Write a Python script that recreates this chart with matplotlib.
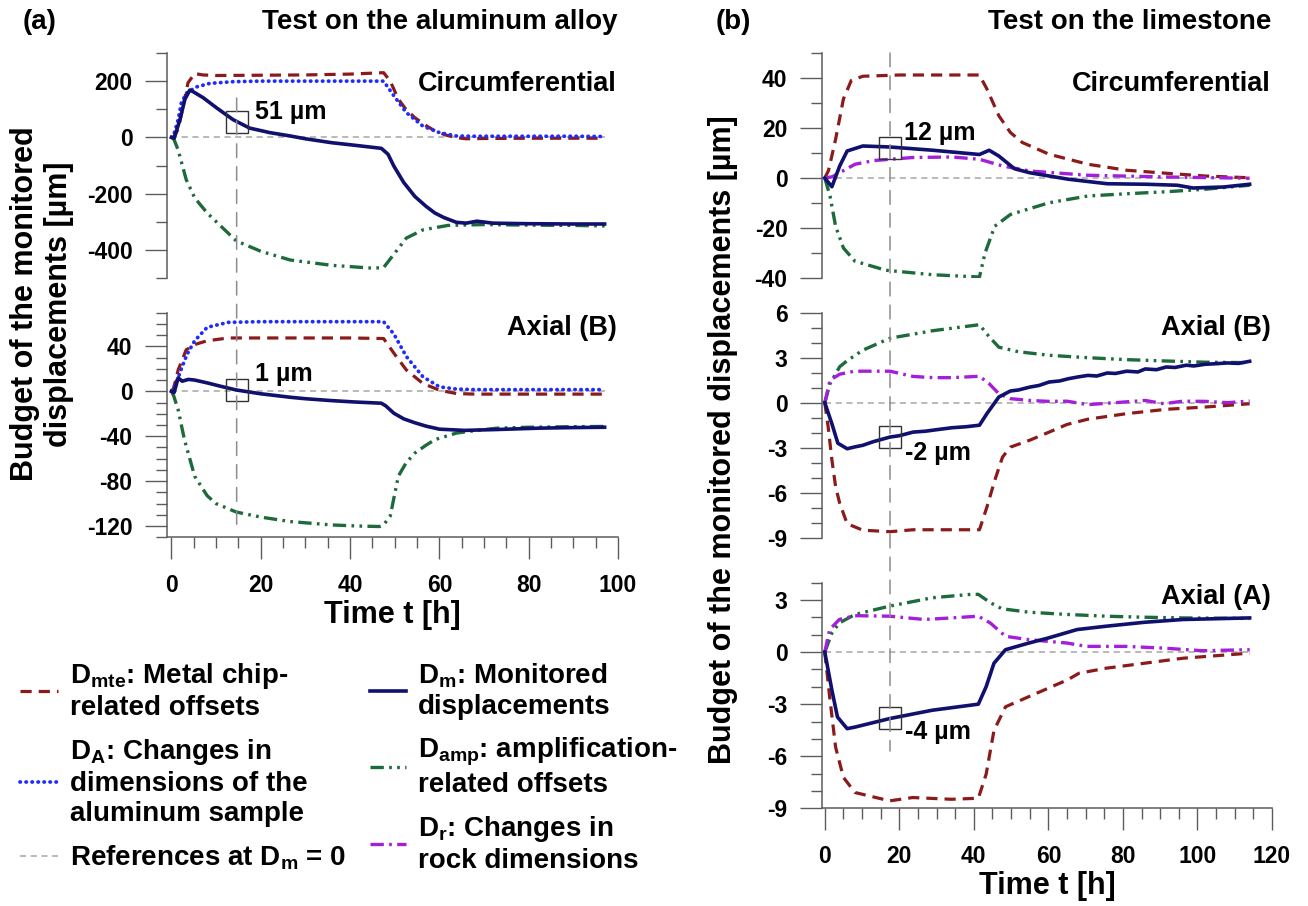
import matplotlib
matplotlib.use("Agg")
import matplotlib.pyplot as plt
from matplotlib.lines import Line2D
from matplotlib.patches import ConnectionPatch
from matplotlib.ticker import MultipleLocator

plt.rcParams["font.family"] = ["Liberation Sans", "DejaVu Sans"]
plt.rcParams["font.weight"] = "bold"
plt.rcParams["axes.labelweight"] = "bold"
plt.rcParams["mathtext.default"] = "regular"
plt.rcParams["axes.unicode_minus"] = False

# ---------------- data: (a) aluminum alloy, circumferential ----------------
t_ac_mte = [0, 0.5, 1.5, 2.2, 3.7, 5.2, 7, 10, 20, 30, 40, 47.5, 49, 50.8, 52.5,
            54.5, 57, 59, 61.5, 63.8, 66, 70, 80, 90, 97]
ac_mte = [0, 0, 30, 81, 194, 227, 222, 220, 221, 222, 225, 230, 200, 136, 100,
          70, 42, 23, 8, -1, -5, -4, -3, -3, -3]
t_ac_A = [0, 0.4, 1.5, 2.2, 3.4, 5.5, 8.6, 13.8, 20, 30, 40, 47.5, 49.8, 52.6,
          56.3, 60, 63.8, 68, 80, 90, 97]
ac_A = [0, 3, 63, 123, 158, 179, 192, 198, 200, 200, 200, 200, 148, 88,
        40, 17, 5, 4, 4, 4, 3]
t_ac_m = [0, 0.6, 1.9, 3.0, 4.1, 4.9, 7.1, 10.1, 13.8, 17.5, 22, 26.6, 30, 35.9,
          41, 47, 48.5, 49.8, 52, 54.5, 57, 59, 61, 63.8, 66, 68.4, 72, 80, 90, 97]
ac_m = [0, -3, 63, 135, 168, 162, 141, 105, 63, 33, 17, 5, -5, -19,
        -28, -39, -60, -102, -160, -210, -245, -269, -285, -302, -305, -298,
        -305, -307, -308, -308]
t_ac_amp = [0, 0.5, 1.5, 3.3, 5.2, 8, 14.5, 20, 26.6, 35.9, 45, 47.5, 49.4,
            52.6, 56.3, 61.9, 70, 80, 90, 97]
ac_amp = [0, -5, -45, -150, -215, -269, -368, -405, -436, -455, -465, -463,
          -424, -358, -329, -313, -310, -312, -313, -315]

# ---------------- data: (a) aluminum alloy, axial (B) ----------------
t_ab_A = [0, 0.5, 1.5, 2.4, 3.5, 5.2, 8, 12.7, 20, 30, 40, 47.5, 49.8, 52.6,
          56.3, 60, 63.8, 68, 80, 90, 97]
ab_A = [0, 3, 12, 22, 33, 45, 57, 61.4, 62, 62, 62, 62, 51, 31,
        13, 4, 2, 1.5, 1.5, 1.5, 1.5]
t_ab_mte = [0, 0.5, 1.5, 3.3, 5.5, 8, 12.7, 20, 30, 40, 47.5, 49.8, 52.6, 56.3,
            60, 63.8, 68, 80, 90, 97]
ab_mte = [0, 3, 19, 37, 42, 45, 47.5, 47.5, 47.5, 47.5, 47, 34, 19, 7,
          1, -2, -2.5, -2.5, -2.5, -2.5]
t_ab_m = [0, 0.6, 1.5, 2.4, 3.8, 5.2, 8, 11, 14.5, 20, 26.6, 30, 35.9, 41, 47,
          48, 49.8, 52, 54.5, 57, 60, 65.6, 73, 82.4, 90, 97]
ab_m = [0, -1, 12, 9, 10.6, 10, 7.5, 4.5, 1.2, -2.2, -5.3, -6.6, -8.3, -9.5,
        -10.6, -13, -19.5, -24.5, -28, -31, -33.7, -34.8, -34, -32.8, -32.3, -32]
t_ab_amp = [0, 0.5, 1.5, 2.9, 5.2, 8, 10, 14.5, 20, 26.6, 35.9, 42, 46.6, 47.5,
            49, 50.8, 52.5, 54.5, 57, 59, 63.8, 68, 73, 80, 90, 97]
ab_amp = [0, -4, -16.5, -43, -75.6, -93, -100, -107.5, -112, -116, -119, -120,
          -120.4, -119, -111, -75.6, -64, -55, -48, -43, -37.2, -35, -32.8, -32,
          -31.5, -31.3]

# ---------------- data: (b) limestone, circumferential ----------------
t_bc_mte = [0, 1.0, 2.9, 5, 7.1, 10.2, 20, 30, 41.5, 43.5, 46.7, 49.8, 53,
            60.2, 70.6, 81, 91.6, 102, 114]
bc_mte = [0, 3, 15.5, 31.6, 39, 40.7, 41.2, 41.2, 41.2, 35.6, 24.9, 18.2, 14.2,
          9.5, 5.5, 3.1, 1.9, 0.8, 0.1]
t_bc_m = [0, 1.9, 4, 6, 10.2, 17.5, 29, 41.5, 44.1, 46.7, 50.9, 55, 65.4, 75.8,
          86.2, 94.6, 98.8, 107, 114]
bc_m = [0, -3.5, 4.8, 10.8, 12.8, 12.4, 11.1, 9.4, 11.1, 8.8, 3.7, 2.1, -0.5,
        -2.3, -2.5, -2.9, -4, -3.6, -2.5]
t_bc_r = [0, 2, 4, 8.1, 13.3, 23.7, 34.1, 41.5, 47.7, 55, 70.6, 91.6, 114]
bc_r = [0, 0.5, 2.1, 5.5, 7, 8.2, 8.4, 7.5, 4.8, 2.8, 1.1, 0.4, -0.1]
t_bc_amp = [0, 1.4, 2.9, 5, 8.1, 16.4, 29, 41.5, 43, 45.6, 49.8, 60.2, 70.6,
            81, 91.6, 102, 114]
bc_amp = [0, -7.2, -19.3, -28, -33.3, -36.9, -38.7, -39.6, -30, -19.3, -14.6,
          -9.9, -7.2, -6.3, -5.5, -4.5, -2.9]

# ---------------- data: (b) limestone, axial (B) ----------------
t_bb_amp = [0, 1.4, 4, 6, 10.2, 17.5, 29, 41.5, 44.1, 46.7, 51.9, 60.2, 70.6,
            81, 91.6, 102, 114]
bb_amp = [0, 1.27, 2.4, 2.8, 3.5, 4.3, 4.8, 5.2, 4.4, 3.7, 3.4, 3.16, 3.0,
          2.87, 2.78, 2.7, 2.67]
t_bb_r = [0, 1.4, 4, 8, 17.5, 23.7, 29, 34, 41.5, 44.1, 46.7, 49.8, 55, 60, 65,
          70.6, 75, 80, 86, 91, 96, 102, 108, 114]
bb_r = [0, 1.5, 1.9, 2.1, 2.1, 1.75, 1.67, 1.67, 1.76, 1.27, 0.6, 0.27, 0.15,
        0.09, 0.1, -0.13, -0.05, 0.04, 0.15, -0.07, 0.1, 0.09, 0.0, 0.11]
t_bb_m = [0, 1.9, 3.5, 6, 8, 10.2, 13, 17.5, 20, 23.7, 27, 30, 34.1, 38, 41.5,
          43.5, 46.7, 49.8, 52, 55, 57.5, 60.2, 63, 65.4, 68, 70.6, 73, 75.8, 78,
          81, 84, 86, 89, 91.6, 94, 97, 99, 102, 105, 108, 111, 114]
bb_m = [0, -1.4, -2.7, -3.07, -2.95, -2.84, -2.6, -2.29, -2.2, -1.96, -1.9,
        -1.8, -1.67, -1.6, -1.5, -0.73, 0.38, 0.78, 0.85, 1.04, 1.15, 1.38, 1.45,
        1.6, 1.72, 1.82, 1.78, 1.98, 1.95, 2.1, 2.05, 2.25, 2.2, 2.38, 2.35, 2.5,
        2.45, 2.56, 2.6, 2.65, 2.62, 2.76]
t_bb_mte = [0, 0.9, 1.9, 2.9, 4, 6, 10.2, 17.5, 23.7, 30, 41.5, 43.5, 45.6,
            47.7, 49.8, 55, 60.2, 65, 70.6, 81, 91.6, 102, 114]
bb_mte = [0, -1.6, -3.8, -5.6, -6.7, -8.07, -8.5, -8.6, -8.47, -8.47, -8.47,
          -6.96, -5.18, -3.62, -2.96, -2.5, -1.96, -1.45, -1.1, -0.73, -0.44,
          -0.29, -0.07]

# ---------------- data: (b) limestone, axial (A) ----------------
t_ba_amp = [0, 1.9, 3.9, 8.1, 17.4, 28.8, 39.2, 41.2, 44.4, 47.5, 54.7, 65.1,
            75.4, 85.8, 96.2, 114]
ba_amp = [0, 1.1, 1.68, 2.17, 2.65, 3.13, 3.33, 3.33, 2.85, 2.5, 2.3, 2.17,
          2.07, 2.01, 1.97, 1.94]
t_ba_r = [0, 1.3, 3.9, 8.1, 17.4, 26.7, 34, 41.2, 44.4, 48.5, 54.7, 65.1, 70.2,
          80.6, 91, 101.3, 114]
ba_r = [0, 1.3, 1.88, 2.1, 2.07, 1.88, 1.97, 2.07, 1.68, 0.91, 0.72, 0.52,
        0.33, 0.33, 0.23, 0.08, 0.14]
t_ba_m = [0, 1.9, 3.4, 6, 8.1, 17.4, 28.8, 41.2, 43.3, 45.4, 48.5, 54.7, 59.9,
          67.7, 75.4, 85.8, 96.2, 114]
ba_m = [0, -2.19, -3.74, -4.41, -4.32, -3.83, -3.35, -3.0, -1.99, -0.64, 0.14,
        0.52, 0.81, 1.3, 1.49, 1.72, 1.88, 1.97]
t_ba_mte = [0, 1.3, 2.9, 5, 8.1, 17.4, 23.6, 34, 41.2, 43.3, 45.4, 48.5, 54.7,
            65.1, 68.2, 75.4, 85.8, 96.2, 114]
ba_mte = [0, -2.57, -5.48, -7.22, -8.09, -8.57, -8.38, -8.48, -8.42, -7.03,
          -4.51, -3.15, -2.57, -1.6, -1.22, -0.93, -0.64, -0.35, -0.06]

# squares marking the values read at a given time
mark_t_a = 14.6
mark_t_b = 17.5
mark_y = [53, 1, 12, -2.3, -3.8]
mark_text = ["51 µm", "1 µm", "12 µm", "-2 µm", "-4 µm"]
# extent of the vertical reference lines (top value, bottom value)
vline_a = (140, -120)
vline_b = (50, -5.7)

panel_names = ["Circumferential", "Axial (B)", "Circumferential", "Axial (B)",
               "Axial (A)"]

# ---------------- styles ----------------
GRAY = "#5c5c5c"
S_MTE = dict(color="#8b1a1a", lw=2.3, ls=(0, (3.5, 2.2)))
S_A = dict(color="#1f2bff", lw=2.7, ls=(0, (0.1, 1.5)), dash_capstyle="round")
S_M = dict(color="#10106e", lw=2.6, ls="-")
S_AMP = dict(color="#1d6b3c", lw=2.4, ls=(0, (4, 1.6, 0.8, 1.6, 0.8, 1.6)))
S_R = dict(color="#a31fd9", lw=2.4, ls=(0, (4, 1.6, 0.8, 1.6)))
S_ZERO = dict(color="#a6a6a6", lw=1.1, ls=(0, (4, 3)))
S_VL = dict(color="#8c8c8c", lw=1.1, ls=(0, (9, 6)))

W, H = 1308, 906
fig = plt.figure(figsize=(W / 100, H / 100), dpi=100)


def box(x0, y0, x1, y1):
    return [x0 / W, 1 - y1 / H, (x1 - x0) / W, (y1 - y0) / H]


def style_axes(ax, xlim, ylim, major, minor, show_x):
    ax.set_xlim(xlim)
    ax.set_ylim(ylim)
    ax.patch.set_alpha(0)
    for s in ["top", "right"]:
        ax.spines[s].set_visible(False)
    ax.spines["left"].set_color(GRAY)
    ax.spines["left"].set_linewidth(1.1)
    ax.yaxis.set_major_locator(MultipleLocator(major))
    ax.yaxis.set_minor_locator(MultipleLocator(minor))
    ax.tick_params(axis="y", which="major", length=15.8, width=1.0, color=GRAY,
                   pad=9, labelsize=16.5)
    ax.tick_params(axis="y", which="minor", length=7.7, width=1.0, color=GRAY)
    if show_x:
        ax.spines["bottom"].set_color(GRAY)
        ax.spines["bottom"].set_linewidth(1.1)
        ax.xaxis.set_major_locator(MultipleLocator(20))
        ax.xaxis.set_minor_locator(MultipleLocator(5))
        ax.tick_params(axis="x", which="major", length=15.6, width=1.0,
                       color=GRAY, pad=11, labelsize=16.5)
        ax.tick_params(axis="x", which="minor", length=7.9, width=1.0, color=GRAY)
        ax.set_xlabel("Time t [h]", fontsize=22, fontweight="bold", labelpad=2)
    else:
        ax.spines["bottom"].set_visible(False)
        ax.tick_params(axis="x", which="both", bottom=False, labelbottom=False)


ax_ac = fig.add_axes(box(167, 53, 618, 278))
ax_ab = fig.add_axes(box(167, 312.7, 618, 537.3))
ax_bc = fig.add_axes(box(822, 53, 1272, 278))
ax_bb = fig.add_axes(box(822, 312.7, 1272, 537.7))
ax_ba = fig.add_axes(box(822, 582.7, 1272, 808.3))

style_axes(ax_ac, (-1, 100), (-500, 300), 200, 100, False)
style_axes(ax_ab, (-1, 100), (-130, 70), 40, 10, True)
style_axes(ax_bc, (-0.75, 120), (-40, 50), 20, 10, False)
style_axes(ax_bb, (-0.75, 120), (-9, 6), 3, 1, False)
style_axes(ax_ba, (-0.75, 120), (-9, 4), 3, 1, True)

panels = [
    (ax_ac, [(t_ac_amp, ac_amp, S_AMP), (t_ac_mte, ac_mte, S_MTE),
             (t_ac_A, ac_A, S_A), (t_ac_m, ac_m, S_M)]),
    (ax_ab, [(t_ab_amp, ab_amp, S_AMP), (t_ab_mte, ab_mte, S_MTE),
             (t_ab_A, ab_A, S_A), (t_ab_m, ab_m, S_M)]),
    (ax_bc, [(t_bc_amp, bc_amp, S_AMP), (t_bc_mte, bc_mte, S_MTE),
             (t_bc_r, bc_r, S_R), (t_bc_m, bc_m, S_M)]),
    (ax_bb, [(t_bb_amp, bb_amp, S_AMP), (t_bb_mte, bb_mte, S_MTE),
             (t_bb_r, bb_r, S_R), (t_bb_m, bb_m, S_M)]),
    (ax_ba, [(t_ba_amp, ba_amp, S_AMP), (t_ba_mte, ba_mte, S_MTE),
             (t_ba_r, ba_r, S_R), (t_ba_m, ba_m, S_M)]),
]
for ax, series in panels:
    t_end = max(s[0][-1] for s in series)
    ax.hlines(0, 0, t_end, zorder=1, color=S_ZERO["color"],
              linewidth=S_ZERO["lw"], linestyle=S_ZERO["ls"])
    for t, y, st in series:
        ax.plot(t, y, zorder=3, **st)

# squares with read values
offsets = [(13, 7.5), (13.3, 12), (9.8, 11), (10.6, -11.3), (10.6, -10)]
mark_axes = [p[0] for p in panels]
mark_ts = [mark_t_a, mark_t_a, mark_t_b, mark_t_b, mark_t_b]
for ax, tx, ty, txt, off in zip(mark_axes, mark_ts, mark_y, mark_text, offsets):
    ax.plot([tx], [ty], marker="s", ms=15.5, mfc="none", mec="#333333",
            mew=1.0, zorder=5)
    ax.annotate(txt, (tx, ty), xytext=off, textcoords="offset points",
                fontsize=18, ha="left", va="center")

# panel names
for ax, name, yf in zip(mark_axes, panel_names,
                        [0.862, 0.932, 0.862, 0.932, 0.937]):
    ax.text(0.998, yf, name, transform=ax.transAxes, ha="right", va="center",
            fontsize=19.5)

# vertical dashed reference lines spanning the stacked panels
for axA, axB, tx, (ytop, ybot) in [(ax_ac, ax_ab, mark_t_a, vline_a),
                                   (ax_bc, ax_ba, mark_t_b, vline_b)]:
    con = ConnectionPatch(xyA=(tx, ytop), coordsA=axA.transData,
                          xyB=(tx, ybot), coordsB=axB.transData,
                          color=S_VL["color"], lw=S_VL["lw"], linestyle=S_VL["ls"])
    con.set_zorder(0.5)
    fig.add_artist(con)

# titles and y labels
fig.text(22.8 / W, 1 - 22 / H, "(a)", fontsize=20, ha="left", va="center")
fig.text(617 / W, 1 - 22 / H, "Test on the aluminum alloy", fontsize=20,
         ha="right", va="center")
fig.text(715.5 / W, 1 - 22 / H, "(b)", fontsize=20, ha="left", va="center")
fig.text(1271 / W, 1 - 22 / H, "Test on the limestone", fontsize=20,
         ha="right", va="center")
fig.text(42 / W, 1 - 304 / H, "Budget of the monitored\ndisplacements [µm]",
         rotation=90, ha="center", va="center", fontsize=22,
         multialignment="center", linespacing=1.15)
fig.text(723 / W, 1 - 440 / H, "Budget of the monitored displacements [µm]",
         rotation=90, ha="center", va="center", fontsize=22)

# legend, two independent columns
col1 = [
    (Line2D([], [], **S_MTE), "D$_{mte}$: Metal chip-\nrelated offsets"),
    (Line2D([], [], **S_A), "D$_A$: Changes in\ndimensions of the\naluminum sample"),
    (Line2D([], [], **S_ZERO), "References at D$_m$ = 0"),
]
col2 = [
    (Line2D([], [], **S_M), "D$_m$: Monitored\ndisplacements"),
    (Line2D([], [], **S_AMP), "D$_{amp}$: amplification-\nrelated offsets"),
    (Line2D([], [], **S_R), "D$_r$: Changes in\nrock dimensions"),
]
for items, x0, hl in [(col1, 20, 1.37), (col2, 370, 1.3)]:
    fig.legend([h for h, _ in items], [l for _, l in items], loc="upper left",
               bbox_to_anchor=(x0 / W, 1 - 661 / H), frameon=False,
               fontsize=20, handlelength=hl, handletextpad=0.42,
               labelspacing=0.58, borderpad=0, borderaxespad=0)

fig.savefig("out.png", dpi=100)
